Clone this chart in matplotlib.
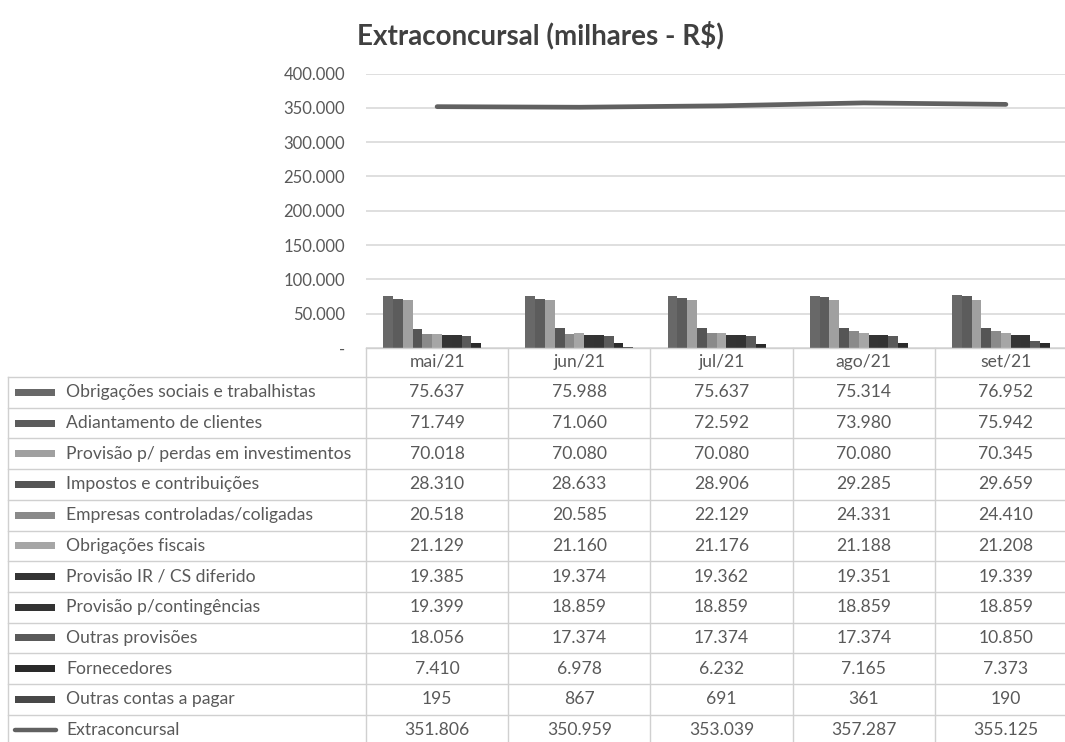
import matplotlib
matplotlib.use("Agg")
import matplotlib.pyplot as plt
from matplotlib.lines import Line2D
from matplotlib.patches import Rectangle

categories = ["mai/21", "jun/21", "jul/21", "ago/21", "set/21"]
series_names = [
    "Obrigações sociais e trabalhistas",
    "Adiantamento de clientes",
    "Provisão p/ perdas em investimentos",
    "Impostos e contribuições",
    "Empresas controladas/coligadas",
    "Obrigações fiscais",
    "Provisão IR / CS diferido",
    "Provisão p/contingências",
    "Outras provisões",
    "Fornecedores",
    "Outras contas a pagar",
]
obrigacoes_sociais = [75637, 75988, 75637, 75314, 76952]
adiantamento = [71749, 71060, 72592, 73980, 75942]
provisao_perdas = [70018, 70080, 70080, 70080, 70345]
impostos = [28310, 28633, 28906, 29285, 29659]
empresas = [20518, 20585, 22129, 24331, 24410]
obrig_fiscais = [21129, 21160, 21176, 21188, 21208]
provisao_ir = [19385, 19374, 19362, 19351, 19339]
provisao_cont = [19399, 18859, 18859, 18859, 18859]
outras_prov = [18056, 17374, 17374, 17374, 10850]
fornecedores = [7410, 6978, 6232, 7165, 7373]
outras_contas = [195, 867, 691, 361, 190]
extraconcursal = [351806, 350959, 353039, 357287, 355125]

series_values = [obrigacoes_sociais, adiantamento, provisao_perdas, impostos,
                 empresas, obrig_fiscais, provisao_ir, provisao_cont,
                 outras_prov, fornecedores, outras_contas]
series_colors = ["#686868", "#5c5c5c", "#a0a0a0", "#555555", "#8a8a8a",
                 "#a6a6a6", "#343434", "#333333", "#5a5a5a", "#2a2a2a", "#484848"]
line_color = "#616161"
yticks = [0, 50000, 100000, 150000, 200000, 250000, 300000, 350000, 400000]
ytick_labels = ["-", "50.000", "100.000", "150.000", "200.000", "250.000",
                "300.000", "350.000", "400.000"]

def fmt(v):
    return f"{v:,}".replace(",", ".")

W, H = 1065, 742
plt.rcParams['font.family'] = ['Lato', 'DejaVu Sans']
fig = plt.figure(figsize=(W / 100, H / 100), dpi=100)

def fx(x):
    return x / W

def fy(y):
    return 1 - y / H

x0, y0, ytop = 366, 348, 73.6
colw = 142.2
x1 = x0 + colw * 5
ax = fig.add_axes([fx(x0), fy(y0), (x1 - x0) / W, (y0 - ytop) / H])
ax.set_xlim(-0.5, 4.5)
ax.set_ylim(0, 400000)
for s in ax.spines.values():
    s.set_visible(False)
ax.set_xticks([])
ax.set_yticks(yticks)
ax.set_yticklabels(ytick_labels)
ax.tick_params(axis='y', length=0, pad=15, labelsize=12, labelcolor="#595959")
ax.yaxis.grid(True, color="#d9d9d9", linewidth=1.2)
ax.set_axisbelow(True)

n = len(series_values)
bw = 0.069
xs = list(range(len(categories)))
for i, (vals, col) in enumerate(zip(series_values, series_colors)):
    off = (i - (n - 1) / 2) * bw
    ax.bar([x + off for x in xs], vals, width=bw, color=col, linewidth=0, zorder=2)
ax.plot(xs, extraconcursal, color=line_color, linewidth=3.4,
        solid_capstyle='round', zorder=3)

fig.text(fx(540), fy(35), "Extraconcursal (milhares - R$)", ha='center',
         va='center', fontsize=20, fontweight='bold', color="#404040")

# table
gcol = "#d0d0d0"
lw = 1.0
row_h = 30.7
hdr_bot = 377
nrows = n + 1
tbl_bot = hdr_bot + row_h * nrows

def hline(xa, xb, y):
    fig.add_artist(Line2D([fx(xa), fx(xb)], [fy(y), fy(y)], color=gcol, lw=lw))

def vline(x, ya, yb):
    fig.add_artist(Line2D([fx(x), fx(x)], [fy(ya), fy(yb)], color=gcol, lw=lw))

hline(x0, W + 20, y0)
hline(8, W + 20, hdr_bot)
for k in range(1, nrows + 1):
    hline(8, W + 20, hdr_bot + row_h * k)
vline(8, hdr_bot, tbl_bot)
for c in range(6):
    vline(x0 + colw * c, y0, tbl_bot)

tcol = "#595959"
fs = 12.6
for c, cat in enumerate(categories):
    fig.text(fx(x0 + colw * (c + 0.5)), fy(y0 + 14), cat, ha='center',
             va='center', fontsize=fs, color=tcol)

all_rows = series_values + [extraconcursal]
all_names = series_names + ["Extraconcursal"]
for r, (name, vals) in enumerate(zip(all_names, all_rows)):
    yc = hdr_bot + row_h * (r + 0.5)
    if r < n:
        fig.add_artist(Rectangle((fx(15), fy(yc + 3.5)), 40 / W, 7 / H,
                                 color=series_colors[r], lw=0))
    else:
        fig.add_artist(Line2D([fx(15), fx(56)], [fy(yc), fy(yc)],
                              color=line_color, lw=3.2, solid_capstyle='round'))
    fig.text(fx(66), fy(yc), name, ha='left', va='center', fontsize=fs, color=tcol)
    for c, v in enumerate(vals):
        fig.text(fx(x0 + colw * (c + 0.5)), fy(yc), fmt(v), ha='center',
                 va='center', fontsize=fs, color=tcol)

fig.savefig("out.png", dpi=100)
